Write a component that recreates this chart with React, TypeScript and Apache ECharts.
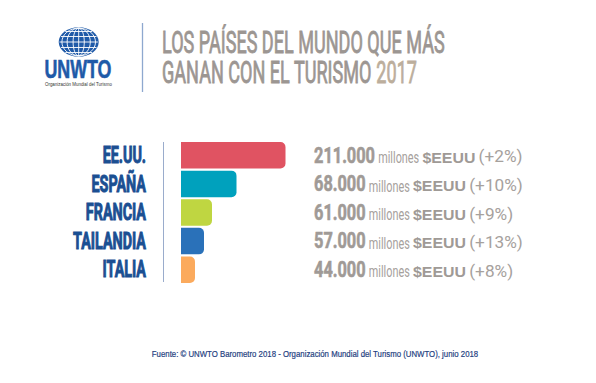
import React, { useEffect, useRef } from "react";
import * as echarts from "echarts";

const categories = ["EE.UU.", "ESPAÑA", "FRANCIA", "TAILANDIA", "ITALIA"];
const revenue = ["211.000", "68.000", "61.000", "57.000", "44.000"];
const growth = ["(+2%)", "(+10%)", "(+9%)", "(+13%)", "(+8%)"];
// bar lengths as drawn in the infographic (relative units, not proportional to revenue)
const barLengths = [104.5, 55.5, 31, 23, 14];
const barColors = ["#e05362", "#00a1bd", "#bfd641", "#2a71b9", "#fbaa5d"];
const titleLine1 = "LOS PAÍSES DEL MUNDO QUE MÁS";
const titleLine2 = "GANAN CON EL TURISMO ";
const titleYear = "2017";
const unitText = "millones";
const currencyText = "$EEUU";
const logoText = "UNWTO";
const logoSub = "Organización Mundial del Turismo";
const sourceText =
  "Fuente: © UNWTO Barometro 2018 - Organización Mundial del Turismo (UNWTO), junio 2018";

const ctx = document.createElement("canvas").getContext("2d") as CanvasRenderingContext2D;
function measure(text: string, font: string) {
  ctx.font = font;
  return ctx.measureText(text).width;
}

export default function App() {
  const ref = useRef<HTMLDivElement>(null);
  useEffect(() => {
    document.body.style.margin = "0";
    const chart = echarts.init(ref.current!, null, { renderer: "svg" });

    const catFont = { size: 23, weight: "bold", family: "Roboto" };
    const numFont = { size: 22, weight: "bold", family: "Roboto" };
    const milFont = { size: 16, weight: "normal", family: "Roboto" };
    const curFont = { size: 15, weight: "bold", family: "Liberation Sans" };
    const pctFont = { size: 16, weight: "normal", family: "Roboto" };
    const fstr = (f: any) => `${f.weight} ${f.size}px ${f.family}`;

    const catScale = 73 / measure("TAILANDIA", fstr(catFont));
    const numScale = 61 / measure(revenue[0], fstr(numFont));
    const milScale = 41 / measure(unitText, fstr(milFont));
    const curScale = 53 / measure(currencyText, fstr(curFont));
    const pctScale = 44 / measure(growth[0], fstr(pctFont));
    const gap = 3.2;

    const t1Font = { size: 31, weight: "normal", family: "Roboto" };
    const t1Scale = 283 / measure(titleLine1, fstr(t1Font));
    const t2Scale = 255 / measure(titleLine2 + titleYear, fstr(t1Font));
    const logoScale = 67 / measure(logoText, "bold 25px Liberation Sans");
    const subScale = 67 / measure(logoSub, "normal 6px Liberation Sans");
    const srcScale = 327 / measure(sourceText, "normal 9px Liberation Sans");

    const txt = (
      text: string,
      f: any,
      scale: number,
      x: number,
      y: number,
      fill: string,
      align = "left",
      strokeW = 0
    ) => ({
      type: "text",
      x,
      y,
      scaleX: scale,
      style: {
        text,
        fontSize: f.size,
        fontWeight: f.weight,
        fontFamily: f.family,
        fill,
        stroke: strokeW ? fill : undefined,
        lineWidth: strokeW,
        align,
        verticalAlign: "middle",
      },
    });

    // globe
    const gcx = 78.7, gcy = 42, grx = 20, gry = 14.7;
    const globe: any[] = [
      { type: "ellipse", shape: { cx: gcx, cy: gcy, rx: grx, ry: gry }, style: { fill: "#1f5aa8" } },
    ];
    [0.28, 0.58, 0.84].forEach((k) => {
      globe.push({
        type: "ellipse",
        shape: { cx: gcx, cy: gcy, rx: grx * k, ry: gry - 0.8 },
        style: { fill: "none", stroke: "#ffffff", lineWidth: 0.9 },
      });
    });
    globe.push({
      type: "line",
      shape: { x1: gcx, y1: gcy - gry + 0.8, x2: gcx, y2: gcy + gry - 0.8 },
      style: { stroke: "#ffffff", lineWidth: 0.9 },
    });
    [-10.5, -5.5, 0, 5.5, 10.5].forEach((dy) => {
      const hl = (grx - 0.8) * Math.sqrt(1 - (dy / gry) * (dy / gry));
      globe.push({
        type: "line",
        shape: { x1: gcx - hl, y1: gcy + dy, x2: gcx + hl, y2: gcy + dy },
        style: { stroke: "#ffffff", lineWidth: 0.9 },
      });
    });

    const option: any = {
      animation: false,
      backgroundColor: "#ffffff",
      grid: { left: 181, top: 141, width: 200, height: 143 },
      xAxis: { type: "value", min: 0, max: 200, show: false },
      yAxis: { type: "category", data: categories, inverse: true, show: false },
      graphic: [
        ...globe,
        {
          type: "text",
          x: 44.5,
          y: 69,
          scaleX: logoScale,
          style: {
            text: logoText,
            fontSize: 25,
            fontWeight: "bold",
            fontFamily: "Liberation Sans",
            fill: "#1f5aa8",
            stroke: "#1f5aa8",
            lineWidth: 0.6,
            verticalAlign: "middle",
          },
        },
        {
          type: "text",
          x: 45,
          y: 84,
          scaleX: subScale,
          style: {
            text: logoSub,
            fontSize: 6,
            fontFamily: "Liberation Sans",
            fill: "#333333",
            verticalAlign: "middle",
          },
        },
        {
          type: "line",
          shape: { x1: 142.5, y1: 23, x2: 142.5, y2: 92 },
          style: { stroke: "#8ea8cf", lineWidth: 1.3 },
        },
        txt(titleLine1, t1Font, t1Scale, 162, 42.5, "#9c9692", "left", 0.9),
        {
          type: "text",
          x: 162,
          y: 72.5,
          scaleX: t2Scale,
          style: {
            text: `{a|${titleLine2}}{b|${titleYear}}`,
            fontSize: t1Font.size,
            fontFamily: t1Font.family,
            verticalAlign: "middle",
            rich: {
              a: {
                fontSize: t1Font.size,
                fontFamily: t1Font.family,
                fill: "#9c9692",
                stroke: "#9c9692",
                lineWidth: 0.9,
              },
              b: {
                fontSize: t1Font.size,
                fontFamily: t1Font.family,
                fill: "#bcae9c",
                stroke: "#bcae9c",
                lineWidth: 0.9,
              },
            },
          },
        },
        {
          type: "line",
          shape: { x1: 163.5, y1: 142, x2: 163.5, y2: 282 },
          style: { stroke: "#9aaccc", lineWidth: 1 },
        },
        {
          type: "text",
          x: 315,
          y: 354,
          scaleX: srcScale,
          style: {
            text: sourceText,
            fontSize: 9,
            fontFamily: "Liberation Sans",
            fill: "#1f3f7f",
            stroke: "#1f3f7f",
            lineWidth: 0.2,
            align: "center",
            verticalAlign: "middle",
          },
        },
      ],
      series: [
        {
          type: "bar",
          barWidth: 26.5,
          silent: true,
          data: barLengths.map((v, i) => ({
            value: v,
            itemStyle: { color: barColors[i], borderRadius: [0, 5, 5, 0] },
          })),
        },
        {
          type: "custom",
          silent: true,
          encode: { x: 0, y: 1 },
          data: categories.map((_, i) => [0, i]),
          renderItem: (params: any, api: any) => {
            const idx = api.value(1);
            const p = api.coord([0, idx]);
            const cy = p[1];
            const xs = p[0] + 133;
            const numW = measure(revenue[idx], fstr(numFont)) * numScale;
            const milW = measure(unitText, fstr(milFont)) * milScale;
            const curW = measure(currencyText, fstr(curFont)) * curScale;
            const x1 = xs + numW + gap;
            const x2 = x1 + milW + gap;
            const x3 = x2 + curW + gap;
            return {
              type: "group",
              children: [
                txt(categories[idx], catFont, catScale, p[0] - 35, cy, "#1b4f92", "right", 1),
                txt(revenue[idx], numFont, numScale, xs, cy, "#a09a96", "left", 0.6),
                txt(unitText, milFont, milScale, x1, cy + 1.8, "#a6a19d"),
                txt(currencyText, curFont, curScale, x2, cy + 2, "#9f9a96"),
                txt(growth[idx], pctFont, pctScale, x3, cy + 1.8, "#a6a19d"),
              ],
            };
          },
        },
      ],
    };
    chart.setOption(option);
    return () => chart.dispose();
  }, []);
  return <div ref={ref} style={{ width: 596, height: 383 }} />;
}
